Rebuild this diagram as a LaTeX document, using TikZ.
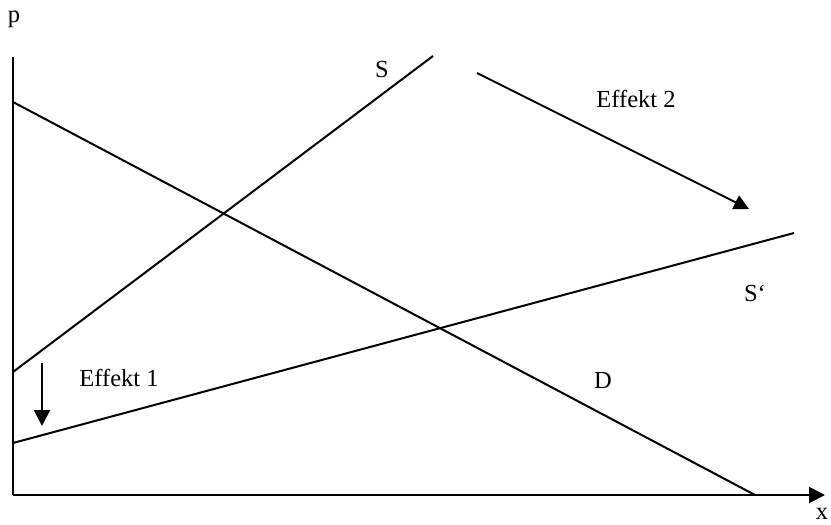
\documentclass[tikz,border=0pt]{standalone}
\usepackage{fontspec}
\setmainfont{Liberation Serif}
\usetikzlibrary{arrows.meta}
\begin{document}
\begin{tikzpicture}[x=1pt,y=-1pt,
  ln/.style={line width=2pt},
  arr/.style={ln,-{Triangle[length=16pt,width=16pt]}},
  lbl/.style={font=\fontsize{24.5}{28}\selectfont,inner sep=0pt}]
\useasboundingbox (0,0) rectangle (831,525);
% axes
\coordinate (o) at (13,495);
\coordinate (ytop) at (13,57);
\coordinate (xend) at (825,495);
\draw[ln] (ytop) -- (o);
\draw[arr] (o) -- (xend);
\node[lbl] (p) at (14,19) {p};
\node[lbl] (xl) at (822,514) {x};
% D
\coordinate (d1) at (13,102);
\coordinate (d2) at (755,495);
\draw[ln] (d1) -- (d2);
% S
\coordinate (s1) at (13,372);
\coordinate (s2) at (433,56);
\draw[ln] (s1) -- (s2);
% S'
\coordinate (t1) at (13,443);
\coordinate (t2) at (794,233);
\draw[ln] (t1) -- (t2);
% Effekt 1 arrow
\coordinate (e1a) at (42,363);
\coordinate (e1b) at (42,426);
\draw[arr] (e1a) -- (e1b);
% Effekt 2 arrow
\coordinate (e2a) at (477,73);
\coordinate (e2b) at (749,209);
\draw[arr,-{Triangle[length=15pt,width=15pt]}] (e2a) -- (e2b);
% labels
\node[lbl] (sl) at (382,70) {S};
\node[lbl] (e2l) at (636,99) {Effekt 2};
\node[lbl] (spl) at (755,293) {S‘};
\node[lbl] (e1l) at (119,378) {Effekt 1};
\node[lbl] (dl) at (603,380) {D};
\end{tikzpicture}
\end{document}
